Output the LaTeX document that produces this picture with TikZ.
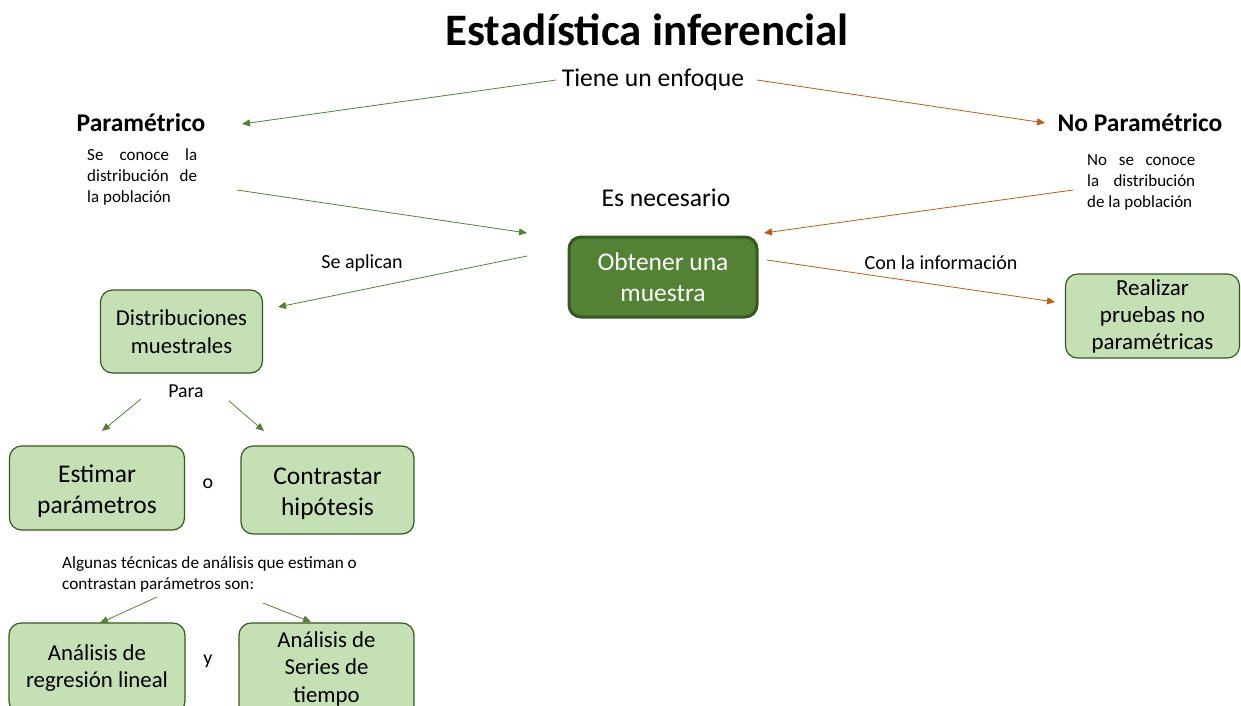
\documentclass[tikz,border=0pt]{standalone}
\usepackage{fontspec}
\setmainfont{Carlito}
\usetikzlibrary{arrows.meta}
\definecolor{gArrow}{HTML}{548235}
\definecolor{oArrow}{HTML}{C55A11}
\definecolor{boxFill}{HTML}{C5E0B4}
\definecolor{boxLine}{HTML}{385723}
\definecolor{mainFill}{HTML}{548235}
\newcommand\myNoHyph{\hyphenpenalty=10000\exhyphenpenalty=10000\relax}
\newcommand\myDown[2]{\raisebox{-#1}[\height][\depth]{\begin{tabular}{@{}c@{}}#2\end{tabular}}}
\begin{document}
\begin{tikzpicture}[x=1pt,y=-1pt,
  lbl/.style={inner sep=0pt,anchor=center},
  lightbox/.style={draw=boxLine,line width=1.2pt,fill=boxFill,rounded corners=12pt,inner sep=0pt,align=center},
  mainbox/.style={draw=boxLine,line width=3pt,fill=mainFill,rounded corners=12pt,inner sep=0pt,align=center,text=white},
  garrow/.style={draw=gArrow,line width=0.8pt,-{Triangle[length=8pt,width=7pt]}},
  oarrow/.style={draw=oArrow,line width=0.8pt,-{Triangle[length=8pt,width=7pt]}},
  small/.style={inner sep=0pt,font=\fontsize{17}{21}\selectfont\myNoHyph,align=justify,anchor=north west}
]
\useasboundingbox (0,0) rectangle (1241,705);
\fill[white] (0,0) rectangle (1241,705);

\node[lbl,font=\fontsize{45}{54}\selectfont\bfseries] (title) at (647,30) {Estadística inferencial};
\node[lbl,font=\fontsize{25.6}{30}\selectfont] (enfoque) at (653,80) {Tiene un enfoque};
\node[lbl,font=\fontsize{25.5}{30}\selectfont\bfseries] (param) at (141,123) {Paramétrico};
\node[lbl,font=\fontsize{25.5}{30}\selectfont\bfseries] (noparam) at (1140,123) {No Paramétrico};
\node[small,text width=110pt] (pdesc) at (87,148) {Se conoce la distribución de la población};
\node[small,text width=108pt] (npdesc) at (1087,154) {No se conoce\linebreak la distribución\linebreak de la población};
\node[lbl,font=\fontsize{25.6}{30}\selectfont] (necesario) at (666,198) {Es necesario};

\node[mainbox,minimum width=188pt,minimum height=80pt,font=\fontsize{25.5}{31}\selectfont] (muestra) at (663,277) {Obtener una\\muestra};
\node[lbl,font=\fontsize{20}{24}\selectfont] (aplican) at (362,263) {Se aplican};
\node[lbl,font=\fontsize{20}{24}\selectfont] (coninfo) at (941,263) {Con la información};

\node[lightbox,minimum width=162pt,minimum height=83pt,font=\fontsize{22.7}{28.5}\selectfont] (distr) at (181.5,331.5) {Distribuciones\\muestrales};
\node[lightbox,minimum width=174pt,minimum height=84pt,font=\fontsize{23}{27}\selectfont] (realizar) at (1152.5,316) {Realizar\\pruebas no\\paramétricas};
\node[lbl,font=\fontsize{19.8}{24}\selectfont] (para) at (186,391) {Para};

\node[lightbox,minimum width=175pt,minimum height=84pt,font=\fontsize{25.5}{31}\selectfont] (estimar) at (97,488) {\myDown{4pt}{Estimar\\parámetros}};
\node[lbl,font=\fontsize{20}{24}\selectfont] (o) at (208,484) {o};
\node[lightbox,minimum width=173pt,minimum height=88pt,font=\fontsize{25.5}{31}\selectfont] (contrastar) at (327.5,490) {\myDown{4pt}{Contrastar\\hipótesis}};

\node[inner sep=0pt,anchor=north west,align=left,font=\fontsize{17.2}{21}\selectfont] (algunas) at (62,556) {Algunas técnicas de análisis que estiman o\\contrastan parámetros son:};

\node[lightbox,minimum width=176pt,minimum height=90pt,font=\fontsize{22.8}{27}\selectfont] (regresion) at (97,668) {Análisis de\\regresión lineal};
\node[lbl,font=\fontsize{20}{24}\selectfont] (yy) at (208,661) {y};
\node[lightbox,minimum width=175pt,minimum height=96pt,font=\fontsize{22.8}{27.5}\selectfont] (series) at (326.5,671) {\myDown{-2pt}{Análisis de\\Series de\\tiempo}};

% connector end points
\coordinate (c1s) at (556,80);   \coordinate (c1e) at (242,124);
\coordinate (c2s) at (757,80);   \coordinate (c2e) at (1045,123);
\coordinate (c3s) at (237,190);  \coordinate (c3e) at (527,233);
\coordinate (c4s) at (1073,190); \coordinate (c4e) at (764,233);
\coordinate (c5s) at (527,256);  \coordinate (c5e) at (278,307);
\coordinate (c6s) at (767,260);  \coordinate (c6e) at (1055,302);
\coordinate (c7s) at (141,399);  \coordinate (c7e) at (102,431);
\coordinate (c8s) at (229,401);  \coordinate (c8e) at (264,431);
\coordinate (c9s) at (157,597);  \coordinate (c9e) at (100,623);
\coordinate (c10s) at (263,603); \coordinate (c10e) at (311,622);

\draw[garrow] (c1s) -- (c1e);
\draw[oarrow] (c2s) -- (c2e);
\draw[garrow] (c3s) -- (c3e);
\draw[oarrow] (c4s) -- (c4e);
\draw[garrow] (c5s) -- (c5e);
\draw[oarrow] (c6s) -- (c6e);
\draw[garrow] (c7s) -- (c7e);
\draw[garrow] (c8s) -- (c8e);
\draw[garrow] (c9s) -- (c9e);
\draw[garrow] (c10s) -- (c10e);
\end{tikzpicture}
\end{document}
